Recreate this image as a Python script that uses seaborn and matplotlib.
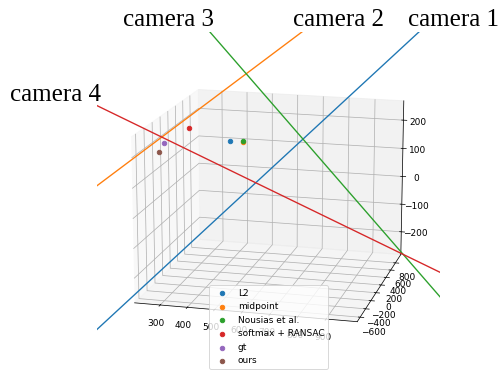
import matplotlib
matplotlib.use("Agg")
import matplotlib.pyplot as plt
import seaborn as sns
import numpy as np

# ---------------- data ----------------
methods = ["L2", "midpoint", "Nousias et al.", "softmax + RANSAC", "gt", "ours"]
est_x = [487, 535, 535, 334, 241, 222]
est_y = [-150, -150, -150, -150, -150, -150]
est_z = [216, 214, 219, 251, 195, 163]

cameras = ["camera 1", "camera 2", "camera 3", "camera 4"]
# ray end points: first = near the camera label, second = far end
ray_x = [[1369, -165], [955, -165], [254, 1411], [-165, 1445]]
ray_y = [[0, 0], [0, 0], [0, 0], [0, 0]]
ray_z = [[791, -593], [733, -71], [699, -446], [342, -274]]

x_lim = (205, 1010)
y_lim = (-705, 1040)
z_lim = (-283, 268)
x_ticks = [300, 400, 500, 600, 700, 800, 900]
y_ticks = [-600, -400, -200, 0, 200, 400, 600, 800]
z_ticks = [-200, -100, 0, 100, 200]

# ---------------- plot ----------------
palette = sns.color_palette("tab10")
DPI = 65
fig = plt.figure(figsize=(503 / DPI, 371 / DPI), dpi=DPI)
ax = fig.add_axes([97 / 503, (371 - 375) / 371, 343 / 503, 343 / 371],
                  projection="3d", computed_zorder=False)

for i in range(len(cameras)):
    ax.plot(ray_x[i], ray_y[i], ray_z[i], color=palette[i], lw=1.5)

for i, m in enumerate(methods):
    ax.scatter([est_x[i]], [est_y[i]], [est_z[i]], color=palette[i], s=25,
               depthshade=False, label=m)

ax.set_xlim(*x_lim)
ax.set_ylim(*y_lim)
ax.set_zlim(*z_lim)
ax.set_xticks(x_ticks)
ax.set_yticks(y_ticks)
ax.set_zticks(z_ticks)
ax.view_init(elev=15.5, azim=-75.5)

ax.legend(loc="lower center", bbox_to_anchor=(268.5 / 503, 2 / 371),
          bbox_transform=fig.transFigure, borderaxespad=0)

label_pos = [(408, 26), (293, 26), (123, 26), (10, 100.7)]
for name, (px, py) in zip(cameras, label_pos):
    fig.text(px / 503, 1 - py / 371, name, family="Liberation Serif",
             fontsize=27.7, ha="left", va="baseline")

fig.savefig("out.png", dpi=DPI)
